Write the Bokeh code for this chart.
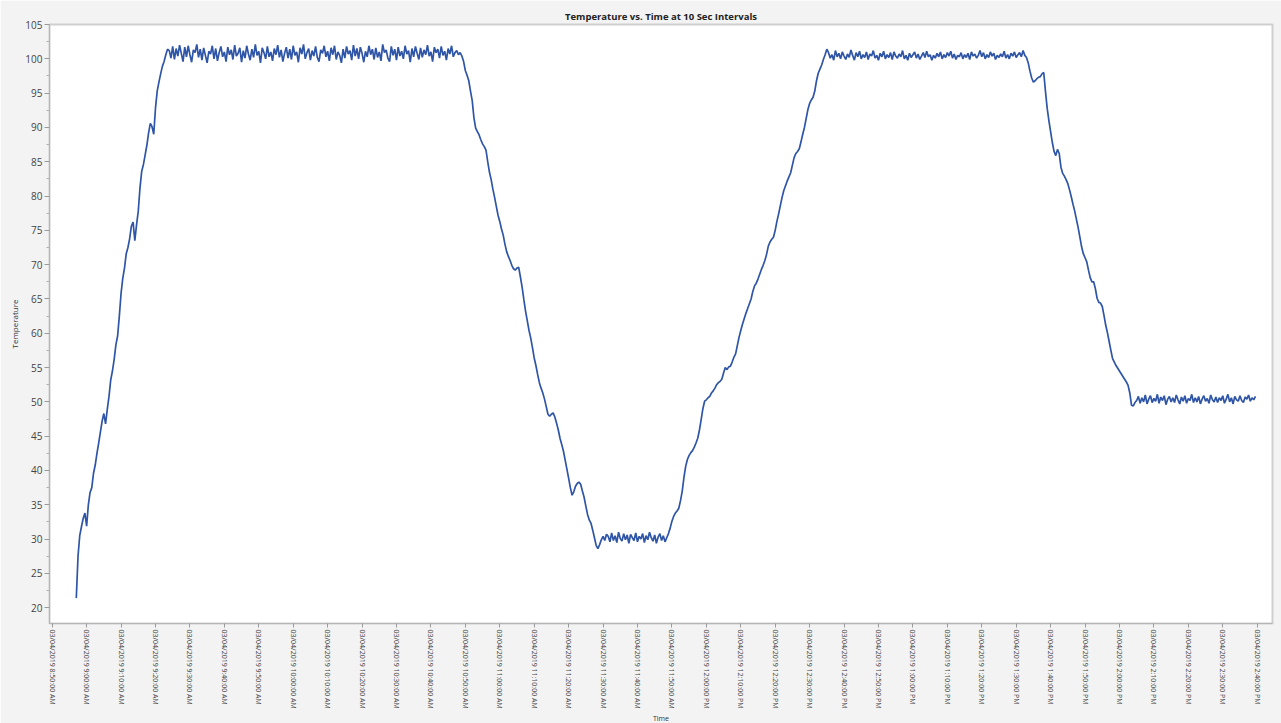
import pandas as pd
from bokeh.plotting import figure
from bokeh.models import Range1d, FixedTicker, CustomJSTickFormatter, Title, ColumnDataSource
from bokeh.embed import file_html
from bokeh.resources import INLINE

# ---------------- data ----------------
title_text = "Temperature vs. Time at 10 Sec Intervals"
x_label = "Time"
y_label = "Temperature"

start_time = "2019-03-04 08:57:00"
sample_seconds = 30

ramp_up_1 = [
    21.4, 27.5, 30.5, 31.8, 33.0, 33.8, 31.9, 35.0, 36.8, 37.5,
    39.6, 40.8, 42.5, 44.0, 45.6, 47.2, 48.3, 46.8, 48.9, 50.8,
    53.2, 54.5, 56.2, 58.3, 59.6, 62.5, 65.8, 68.0, 69.5, 71.6,
    72.5, 73.8, 75.6, 76.2, 73.5, 75.8, 77.8, 81.2, 83.6, 84.6,
    86.0, 87.4, 89.2, 90.6, 90.1, 89.0, 92.8, 95.3, 96.6, 97.8,
    98.9, 99.6, 100.6, 101.4,
]

plateau_high_1 = [
    101.2, 100.1, 101.8, 99.9, 101.5, 100.4, 102.0, 100.8, 99.6, 101.7,
    100.3, 101.9, 100.6, 99.5, 101.3, 100.9, 102.1, 100.2, 101.4, 99.8,
    101.6, 100.5, 99.4, 101.1, 100.7, 101.9, 100.0, 101.5, 99.7, 100.9,
    101.8, 100.3, 101.0, 99.6, 101.7, 100.6, 101.3, 99.9, 102.0, 100.4,
    100.8, 101.6, 99.5, 101.2, 100.1, 101.9, 100.7, 99.8, 101.4, 100.2,
    102.1, 100.5, 101.1, 99.4, 101.6, 100.9, 100.0, 101.8, 100.3, 101.0,
    99.7, 101.5, 100.6, 102.0, 100.2, 101.3, 99.6, 100.8, 101.7, 100.1,
    101.4, 99.9, 101.9, 100.5, 101.0, 99.5, 101.6, 100.7, 102.1, 100.0,
    100.9, 101.5, 99.8, 101.2, 100.4, 101.8, 100.2, 99.6, 101.3, 100.8,
    101.9, 100.3, 101.1, 99.7, 101.6, 100.6, 101.9, 99.9, 101.0, 100.5,
    99.4, 101.4, 100.1, 101.8, 100.7, 101.2, 99.8, 102.0, 100.4, 101.5,
    100.0, 101.7, 100.8, 99.5, 101.1, 100.3, 101.9, 100.6, 101.4, 99.9,
    101.6, 100.2, 101.0, 99.7, 102.1, 100.9, 101.3, 100.1, 99.6, 101.8,
    100.5, 101.4, 99.8, 101.7, 100.4, 101.1, 100.0, 101.9, 100.7, 101.2,
    99.5, 101.5, 100.3, 101.8, 100.8, 99.9, 101.6, 100.2, 101.3, 100.6,
    102.0, 100.4, 101.0, 99.6, 101.7, 100.9, 101.4, 100.1, 101.8, 100.5,
    101.1, 99.8, 101.5, 100.7, 101.9, 100.3, 100.9, 101.2, 100.6, 100.9,
]

ramp_down_1 = [
    100.4, 99.6, 98.3, 97.6, 96.8, 95.3, 93.9, 91.4, 89.9, 89.4,
    88.9, 88.2, 87.6, 87.2, 86.7, 85.0, 83.5, 82.4, 81.0, 79.8,
    78.5, 77.2, 76.3, 75.2, 74.3, 73.0, 71.9, 71.2, 70.6, 69.9,
    69.4, 69.2, 69.5, 69.6, 68.2, 66.7, 64.9, 63.2, 61.8, 60.4,
    59.3, 57.9, 56.4, 55.3, 54.0, 52.8, 52.0, 51.3, 50.4, 49.3,
    48.2, 47.9, 48.2, 48.4, 47.8, 46.9, 45.9, 44.7, 43.8, 42.8,
    41.5, 40.2, 38.9, 37.5, 36.4, 36.9, 37.7, 38.1, 38.3, 38.0,
    37.0, 36.1, 34.8, 33.6, 32.8, 32.3, 31.3, 30.2, 29.1, 28.6,
    29.2, 29.9, 30.4, 29.8, 30.7,
]

plateau_low = [
    30.4, 29.6, 30.9, 29.8, 30.5, 29.5, 31.0, 30.1, 29.7, 30.8,
    29.9, 30.6, 29.4, 30.7, 30.2, 29.8, 30.9, 29.6, 30.4, 30.0,
    30.8, 29.5, 30.5, 29.9, 31.0, 30.2, 29.7, 30.6, 29.4, 30.3,
    30.8, 29.8, 30.5, 29.6, 30.2,
]

ramp_up_2 = [
    30.8, 31.6, 32.6, 33.3, 33.8, 34.1, 34.5, 35.6, 37.0, 39.0,
    40.6, 41.6, 42.2, 42.6, 42.9, 43.4, 44.0, 44.7, 45.9, 47.4,
    49.0, 50.1, 50.3, 50.6, 50.8, 51.3, 51.6, 52.0, 52.5, 52.8,
    53.0, 53.3, 54.2, 55.0, 54.7, 55.1, 55.2, 55.8, 56.5, 57.0,
    58.2, 59.4, 60.4, 61.3, 62.1, 62.9, 63.6, 64.3, 65.0, 66.1,
    66.9, 67.3, 67.9, 68.6, 69.3, 69.9, 70.6, 71.5, 72.7, 73.3,
    73.7, 74.0, 75.0, 76.3, 77.4, 78.6, 79.8, 80.8, 81.5, 82.2,
    82.8, 83.4, 84.5, 85.6, 86.2, 86.5, 86.9, 87.9, 89.0, 90.0,
    91.3, 92.6, 93.5, 94.0, 94.4, 95.3, 96.8, 97.9, 98.5, 99.1,
    99.9, 100.6, 101.4,
]

plateau_high_2 = [
    100.9, 100.1, 100.6, 99.8, 101.2, 100.3, 100.8, 100.0, 101.0, 100.4,
    99.9, 100.7, 100.2, 101.3, 100.5, 99.8, 100.9, 100.3, 101.1, 100.0,
    100.6, 100.2, 101.0, 99.9, 100.7, 100.4, 101.2, 100.1, 100.5, 99.8,
    100.8, 100.3, 101.1, 100.0, 100.6, 100.2, 100.9, 99.9, 101.0, 100.4,
    100.1, 100.7, 100.3, 101.2, 100.0, 100.5, 99.8, 100.8, 100.2, 100.6,
    101.0, 100.1, 100.7, 99.9, 100.4, 100.9, 100.2, 101.1, 100.3, 100.6,
    99.8, 100.5, 100.1, 100.8, 100.3, 101.0, 100.0, 100.6, 100.2, 100.9,
    100.4, 101.1, 100.1, 100.7, 99.9, 100.5, 100.3, 100.9, 100.0, 100.6,
    100.2, 100.8, 99.9, 101.0, 100.4, 100.7, 100.1, 100.5, 101.2, 100.3,
    100.9, 100.0, 100.6, 100.2, 101.0, 100.4, 100.8, 99.9, 100.5, 100.2,
    100.7, 100.3, 101.1, 100.1, 100.6, 100.0, 100.8, 100.4, 101.0, 100.2,
    100.6, 100.9, 100.3, 101.2, 100.5,
]

ramp_down_2 = [
    100.2, 99.4, 98.2, 97.2, 96.6, 96.8, 97.1, 97.3, 97.4, 97.8,
    98.0, 95.3, 92.8, 91.0, 89.4, 87.8, 86.5, 85.9, 86.8, 86.2,
    84.2, 83.3, 82.9, 82.4, 81.8, 80.9, 79.9, 78.8, 77.8, 76.6,
    75.4, 74.0, 72.6, 71.6, 71.0, 70.4, 69.2, 68.1, 67.5, 67.5,
    66.5, 65.1, 64.5, 64.4, 63.9, 62.6, 61.2, 60.1, 58.8, 57.5,
    56.3, 55.8, 55.3, 54.9, 54.5, 54.1, 53.7, 53.3, 52.9, 52.4,
    51.3, 49.5, 49.4, 49.9, 50.2,
]

plateau_mid = [
    50.8, 49.8, 50.6, 50.0, 51.0, 49.7, 50.4, 50.9, 49.9, 50.5,
    50.1, 51.1, 49.8, 50.7, 50.2, 50.9, 49.6, 50.4, 50.8, 50.0,
    50.6, 49.9, 51.0, 50.3, 49.7, 50.7, 50.1, 50.9, 49.8, 50.5,
    50.2, 51.1, 49.9, 50.6, 50.0, 50.8, 49.7, 50.4, 50.9, 50.1,
    50.5, 49.8, 51.0, 50.3, 50.0, 50.7, 49.9, 50.6, 50.2, 50.9,
    49.8, 50.4, 51.1, 50.0, 50.6, 49.7, 50.8, 50.3, 50.1, 50.9,
    50.2, 49.9, 50.7, 50.4, 51.0, 50.1, 50.6, 50.3, 50.8,
]

tick_labels = [
    "03/04/2019 8:50:00 AM", "03/04/2019 9:00:00 AM", "03/04/2019 9:10:00 AM",
    "03/04/2019 9:20:00 AM", "03/04/2019 9:30:00 AM", "03/04/2019 9:40:00 AM",
    "03/04/2019 9:50:00 AM", "03/04/2019 10:00:00 AM", "03/04/2019 10:10:00 AM",
    "03/04/2019 10:20:00 AM", "03/04/2019 10:30:00 AM", "03/04/2019 10:40:00 AM",
    "03/04/2019 10:50:00 AM", "03/04/2019 11:00:00 AM", "03/04/2019 11:10:00 AM",
    "03/04/2019 11:20:00 AM", "03/04/2019 11:30:00 AM", "03/04/2019 11:40:00 AM",
    "03/04/2019 11:50:00 AM", "03/04/2019 12:00:00 PM", "03/04/2019 12:10:00 PM",
    "03/04/2019 12:20:00 PM", "03/04/2019 12:30:00 PM", "03/04/2019 12:40:00 PM",
    "03/04/2019 12:50:00 PM", "03/04/2019 1:00:00 PM", "03/04/2019 1:10:00 PM",
    "03/04/2019 1:20:00 PM", "03/04/2019 1:30:00 PM", "03/04/2019 1:40:00 PM",
    "03/04/2019 1:50:00 PM", "03/04/2019 2:00:00 PM", "03/04/2019 2:10:00 PM",
    "03/04/2019 2:20:00 PM", "03/04/2019 2:30:00 PM", "03/04/2019 2:40:00 PM",
]

y_ticks = [20, 25, 30, 35, 40, 45, 50, 55, 60, 65, 70, 75, 80, 85, 90, 95, 100, 105]

# ---------------- build ----------------
temperature = (ramp_up_1 + plateau_high_1 + ramp_down_1 + plateau_low
               + ramp_up_2 + plateau_high_2 + ramp_down_2 + plateau_mid)
times = pd.date_range(start_time, periods=len(temperature), freq=f"{sample_seconds}s")
source = ColumnDataSource(data=dict(time=times, temp=temperature))

tick_times = pd.to_datetime(tick_labels, format="%m/%d/%Y %I:%M:%S %p")
tick_ms = [float(t.timestamp() * 1000.0) for t in tick_times]

FONT = "Open Sans"

p = figure(
    width=1281, height=723,
    x_axis_type="datetime",
    x_range=Range1d(pd.Timestamp("2019-03-04 08:49:13"), pd.Timestamp("2019-03-04 14:44:27")),
    y_range=Range1d(17.7, 105),
    output_backend="svg", toolbar_location=None,
    min_border_left=49, min_border_right=9, min_border_top=24, min_border_bottom=100,
)
p.title.text = title_text
p.title.align = "center"
p.title.text_font = FONT
p.title.text_font_size = "9.5px"
p.title.text_font_style = "bold"
p.title.text_color = "#222222"
p.title.offset = 0
p.title.standoff = 4

p.border_fill_color = "#f3f3f3"
p.background_fill_color = "white"
p.outline_line_color = "#cfcfcf"
p.outline_line_width = 2
p.xgrid.grid_line_color = None
p.ygrid.grid_line_color = None

p.line("time", "temp", source=source, line_color="#2f55a6", line_width=1.7)

# x axis
p.xaxis.ticker = FixedTicker(ticks=tick_ms)
p.xaxis.formatter = CustomJSTickFormatter(
    args=dict(tick_vals=tick_ms, tick_texts=tick_labels),
    code="""
    for (let i = 0; i < tick_vals.length; i++) {
        if (Math.abs(tick_vals[i] - tick) < 1000) return tick_texts[i];
    }
    return "";
    """,
)
p.xaxis.major_label_orientation = "vertical"
p.xaxis.major_label_text_font = FONT
p.xaxis.major_label_text_font_size = "7px"
p.xaxis.major_label_text_color = "#444444"
p.xaxis.major_label_standoff = 2
p.xaxis.axis_line_color = "#b5b5b5"
p.xaxis.major_tick_line_color = "#9a9a9a"
p.xaxis.major_tick_out = 4
p.xaxis.major_tick_in = 0
p.xaxis.minor_tick_line_color = None

# y axis
p.yaxis.ticker = FixedTicker(ticks=y_ticks, minor_ticks=[t + 2.5 for t in y_ticks])
p.yaxis.axis_label = y_label
p.yaxis.axis_label_text_font = FONT
p.yaxis.axis_label_text_font_size = "8px"
p.yaxis.axis_label_text_font_style = "normal"
p.yaxis.axis_label_text_color = "#333333"
p.yaxis.axis_label_standoff = 2
p.yaxis.major_label_text_font = FONT
p.yaxis.major_label_text_font_size = "10px"
p.yaxis.major_label_text_color = "#444444"
p.yaxis.major_label_standoff = 2
p.yaxis.axis_line_color = "#b5b5b5"
p.yaxis.major_tick_line_color = "#9a9a9a"
p.yaxis.minor_tick_line_color = "#b0b0b0"
p.yaxis.major_tick_out = 5
p.yaxis.major_tick_in = 0
p.yaxis.minor_tick_out = 3
p.yaxis.minor_tick_in = 0

p.add_layout(Title(
    text=x_label, align="center", text_font=FONT, text_font_size="7px",
    text_font_style="normal", text_color="#333333", standoff=0, offset=3,
), "below")

open("out.html", "w").write(file_html(p, INLINE))
